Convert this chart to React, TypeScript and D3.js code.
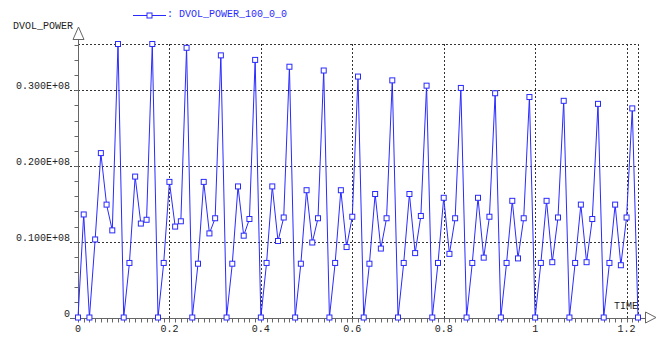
import { useRef, useEffect } from "react";
import * as d3 from "d3";

// sample times (s)
const time = [
  0, 0.0125, 0.025, 0.0375, 0.05, 0.0625, 0.075, 0.0875, 0.1, 0.1125,
  0.125, 0.1375, 0.15, 0.1625, 0.175, 0.1875, 0.2, 0.2125, 0.225, 0.2375,
  0.25, 0.2625, 0.275, 0.2875, 0.3, 0.3125, 0.325, 0.3375, 0.35, 0.3625,
  0.375, 0.3875, 0.4, 0.4125, 0.425, 0.4375, 0.45, 0.4625, 0.475, 0.4875,
  0.5, 0.5125, 0.525, 0.5375, 0.55, 0.5625, 0.575, 0.5875, 0.6, 0.6125,
  0.625, 0.6375, 0.65, 0.6625, 0.675, 0.6875, 0.7, 0.7125, 0.725, 0.7375,
  0.75, 0.7625, 0.775, 0.7875, 0.8, 0.8125, 0.825, 0.8375, 0.85, 0.8625,
  0.875, 0.8875, 0.9, 0.9125, 0.925, 0.9375, 0.95, 0.9625, 0.975, 0.9875,
  1.0, 1.0125, 1.025, 1.0375, 1.05, 1.0625, 1.075, 1.0875, 1.1, 1.1125,
  1.125, 1.1375, 1.15, 1.1625, 1.175, 1.1875, 1.2, 1.2125, 1.225,
];

// DVOL_POWER_100_0_0 values
const power = [
  0, 13600000, 0, 10300000, 21700000, 14900000, 11500000, 36100000, 0, 7200000,
  18600000, 12400000, 12900000, 36100000, 0, 7200000, 17900000, 12000000, 12700000, 35600000,
  0, 7100000, 17900000, 11100000, 13100000, 34600000, 0, 7100000, 17300000, 10800000,
  13000000, 34000000, 0, 7200000, 17300000, 10100000, 13200000, 33100000, 0, 7100000,
  16800000, 9900000, 13100000, 32600000, 0, 7200000, 16800000, 9300000, 13300000, 31800000,
  0, 7100000, 16300000, 9100000, 13100000, 31300000, 0, 7200000, 16300000, 8500000,
  13400000, 30600000, 0, 7200000, 15800000, 8400000, 13100000, 30300000, 0, 7200000,
  15800000, 7900000, 13300000, 29600000, 0, 7200000, 15400000, 7800000, 13100000, 29100000,
  0, 7200000, 15400000, 7300000, 13200000, 28600000, 0, 7200000, 14900000, 7300000,
  13000000, 28200000, 0, 7200000, 14900000, 6900000, 13200000, 27600000, 0,
];

const xTicks = [0, 0.2, 0.4, 0.6, 0.8, 1, 1.2];
const xTickLabels = ["0", "0.2", "0.4", "0.6", "0.8", "1", "1.2"];
const yTicks = [0, 10000000, 20000000, 30000000];
const yTickLabels = ["0", "0.100E+08", "0.200E+08", "0.300E+08"];

const seriesName = "DVOL_POWER_100_0_0";

export default function App() {
  const svgRef = useRef<SVGSVGElement>(null);

  useEffect(() => {
    const svg = d3.select(svgRef.current);
    svg.selectAll("*").remove();

    const width = 657;
    const height = 338;
    const font = "'Liberation Mono', 'DejaVu Sans Mono', monospace";
    const blue = "#2a2aff";
    const axisColor = "#666";
    const gridColor = "#333";

    const data = time.map((t, i) => ({ t, v: power[i] }));
    const yMax = d3.max(power) as number;
    const tMax = d3.max(time) as number;

    const x = d3.scaleLinear().domain([0, tMax]).range([78, 638]);
    const y = d3.scaleLinear().domain([0, yMax]).range([317.5, 44]);

    const crisp = (v: number) => Math.round(v) + 0.5;

    svg.attr("width", width).attr("height", height);
    svg.append("rect").attr("width", width).attr("height", height).attr("fill", "white");

    // grid: horizontal
    const grid = svg.append("g").attr("stroke", gridColor).attr("stroke-dasharray", "2,2").attr("stroke-width", 1);
    yTicks.slice(1).forEach((v) => {
      grid.append("line").attr("x1", 70).attr("x2", x(tMax)).attr("y1", crisp(y(v))).attr("y2", crisp(y(v)));
    });
    grid.append("line").attr("x1", 78).attr("x2", x(tMax)).attr("y1", crisp(y(yMax))).attr("y2", crisp(y(yMax)));
    // grid: vertical
    xTicks.slice(1).forEach((t) => {
      grid.append("line").attr("x1", crisp(x(t))).attr("x2", crisp(x(t))).attr("y1", y(yMax)).attr("y2", 324);
    });
    grid.append("line").attr("x1", crisp(x(tMax))).attr("x2", crisp(x(tMax))).attr("y1", y(yMax)).attr("y2", 317);

    // axes
    const ax = svg.append("g").attr("stroke", axisColor).attr("stroke-width", 1).attr("fill", "none");
    ax.append("line").attr("x1", 70).attr("x2", 645).attr("y1", crisp(y(0))).attr("y2", crisp(y(0)));
    ax.append("line").attr("x1", crisp(x(0))).attr("x2", crisp(x(0))).attr("y1", 321).attr("y2", 39);
    d3.range(0, tMax + 0.001, 0.0125).forEach((t) => {
      ax.append("line").attr("x1", crisp(x(t))).attr("x2", crisp(x(t))).attr("y1", crisp(y(0))).attr("y2", crisp(y(0)) + 4);
    });
    d3.range(0, yMax, 2000000).forEach((v) => {
      ax.append("line").attr("x1", crisp(x(0)) - 4).attr("x2", crisp(x(0))).attr("y1", crisp(y(v))).attr("y2", crisp(y(v)));
    });
    // arrows
    ax.append("path").attr("d", "M78.5,27 L73,39.5 L84,39.5 Z").attr("fill", "white");
    ax.append("path").attr("d", "M645.5,312 L656,317.5 L645.5,323 Z").attr("fill", "white");

    // tick labels
    const txt = svg.append("g").style("font-family", font).style("font-size", "10px").attr("fill", "#222");
    yTicks.forEach((v, i) => {
      txt.append("text").attr("x", 70).attr("y", crisp(y(v)) - 2).attr("text-anchor", "end").text(yTickLabels[i]);
    });
    xTicks.forEach((t, i) => {
      txt.append("text").attr("x", x(t)).attr("y", 332).attr("text-anchor", "middle").text(xTickLabels[i]);
    });
    txt.append("text").attr("x", 13).attr("y", 29).text("DVOL_POWER");
    txt.append("text").attr("x", 614).attr("y", 309).text("TIME");

    // series
    const line = d3.line<{ t: number; v: number }>().x((d) => x(d.t)).y((d) => y(d.v));
    svg.append("path").datum(data).attr("fill", "none").attr("stroke", blue).attr("stroke-width", 1).attr("d", line);
    svg.append("g").selectAll("rect").data(data).enter().append("rect")
      .attr("x", (d) => x(d.t) - 2.5).attr("y", (d) => y(d.v) - 2.5)
      .attr("width", 5).attr("height", 5)
      .attr("fill", "white").attr("stroke", blue).attr("stroke-width", 1);

    // legend
    const lg = svg.append("g");
    lg.append("line").attr("x1", 133).attr("x2", 166).attr("y1", 15.5).attr("y2", 15.5).attr("stroke", blue);
    lg.append("rect").attr("x", 147).attr("y", 13).attr("width", 5).attr("height", 5).attr("fill", "white").attr("stroke", blue);
    lg.append("text").attr("x", 167).attr("y", 17).style("font-family", font).style("font-size", "10px").attr("fill", blue).text(": " + seriesName);
  }, []);

  return <svg ref={svgRef} style={{ position: "absolute", left: 0, top: 0, display: "block" }} />;
}
